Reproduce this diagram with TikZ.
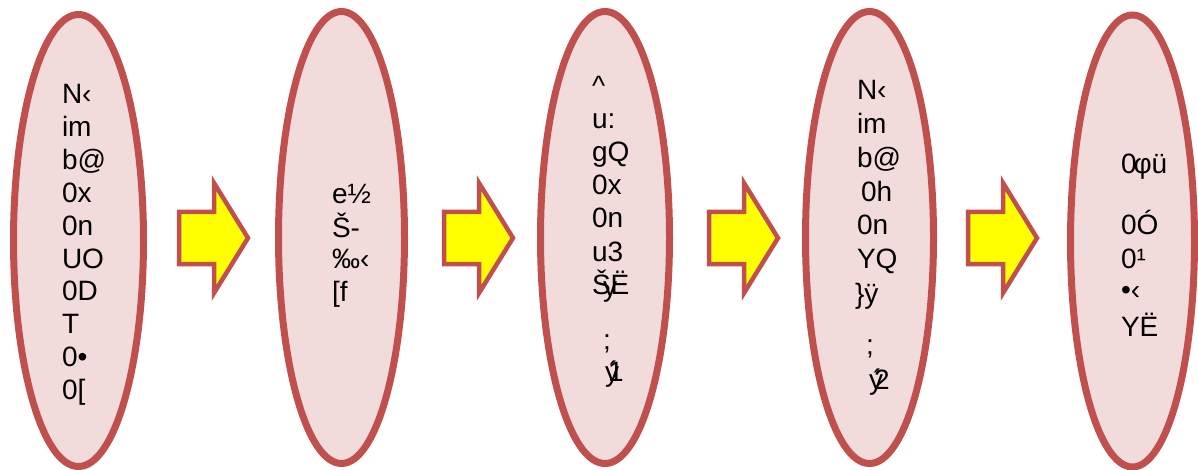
\documentclass[tikz,border=0pt]{standalone}
\usepackage{fontspec}
\setmainfont{Liberation Sans}
\usetikzlibrary{shapes.geometric}
\definecolor{ellfill}{HTML}{F2DCDB}
\definecolor{redline}{HTML}{C0504D}
\definecolor{arrfill}{HTML}{FFFF00}
\begin{document}
\begin{tikzpicture}[x=1pt,y=-1pt,
  oval/.style={ellipse, draw=redline, fill=ellfill, line width=7pt,
    inner sep=0pt, outer sep=0pt, minimum width=#1, minimum height=452pt},
  oval/.default=129pt,
  blockarrow/.style={draw=redline, fill=arrfill, line width=4.5pt, line join=miter},
  txt/.style={anchor=base west, inner sep=0pt, outer sep=0pt,
    font=\fontsize{28}{33}\selectfont}]
\useasboundingbox (0,0) rectangle (1198,470);
% ellipses
\node[oval=130pt] (e1) at (78.5,240.5) {};
\node[oval=126pt] (e2) at (341.5,237.5) {};
\node[oval=129pt] (e3) at (605,237.5) {};
\node[oval=128pt] (e4) at (869.5,237.5) {};
\node[oval=124pt] (e5) at (1132.5,241) {};
% block arrows
\newcommand\blockarr[1]{\draw[blockarrow] (#1,212) -- (#1+35,212) -- (#1+35,183) -- (#1+69,238) -- (#1+35,293) -- (#1+35,264) -- (#1,264) -- cycle;}
\blockarr{179}
\blockarr{444}
\blockarr{709}
\blockarr{968}
% texts ellipse 1
\node[txt] (a1) at (62,104) {N‹};
\node[txt] (a2) at (62,136.8) {im};
\node[txt] (a3) at (62,169.6) {b@};
\node[txt] (a4) at (62,202.4) {0x};
\node[txt] (a5) at (62,235.2) {0n};
\node[txt] (a6) at (62,268) {UO};
\node[txt] (a7) at (62,300.8) {0D};
\node[txt] (a8) at (62,333.6) {T};
\node[txt] (a9) at (62,366.4) {0•};
\node[txt] (a10) at (62,399.2) {0[};
% texts ellipse 2
\node[txt] (b1) at (332,204) {e½};
\node[txt] (b2) at (332,237) {Š-};
\node[txt] (b3) at (332,269) {‰‹};
\node[txt] (b4) at (332,301) {[f};
% texts ellipse 3
\node[txt] (c1) at (592,96) {\textasciicircum};
\node[txt] (c2) at (592,129) {u:};
\node[txt] (c3) at (592,162) {gQ};
\node[txt] (c4) at (592,195) {0x};
\node[txt] (c5) at (592,228) {0n};
\node[txt] (c6) at (592,261) {u3};
\node[txt] (c7) at (592,294) {ŠË};
\node[txt] (c7b) at (603,296) {y};
\node[txt] (c8) at (603,349) {;};
\node[txt] (c9) at (605,381) {ý};
\node[txt] (c9b) at (608,381) {1};
% texts ellipse 4
\node[txt] (d1) at (857,100) {N‹};
\node[txt] (d2) at (857,134) {im};
\node[txt] (d3) at (857,168) {b@};
\node[txt] (d4) at (861,202) {0h};
\node[txt] (d5) at (857,235) {0n};
\node[txt] (d6) at (857,269) {YQ};
\node[txt] (d7) at (855,303) {\}ÿ};
\node[txt] (d8) at (866,354) {;};
\node[txt] (d9) at (869,389) {ý};
\node[txt] (d9b) at (874,389) {2};
% texts ellipse 5
\node[txt] (f1) at (1121,174) {0\kern-3ptφü};
\node[txt] (f2) at (1121,234) {0Ó};
\node[txt] (f3) at (1121,268) {0¹};
\node[txt] (f4) at (1121,299) {•‹};
\node[txt] (f5) at (1121,336) {YË};
\end{tikzpicture}
\end{document}
